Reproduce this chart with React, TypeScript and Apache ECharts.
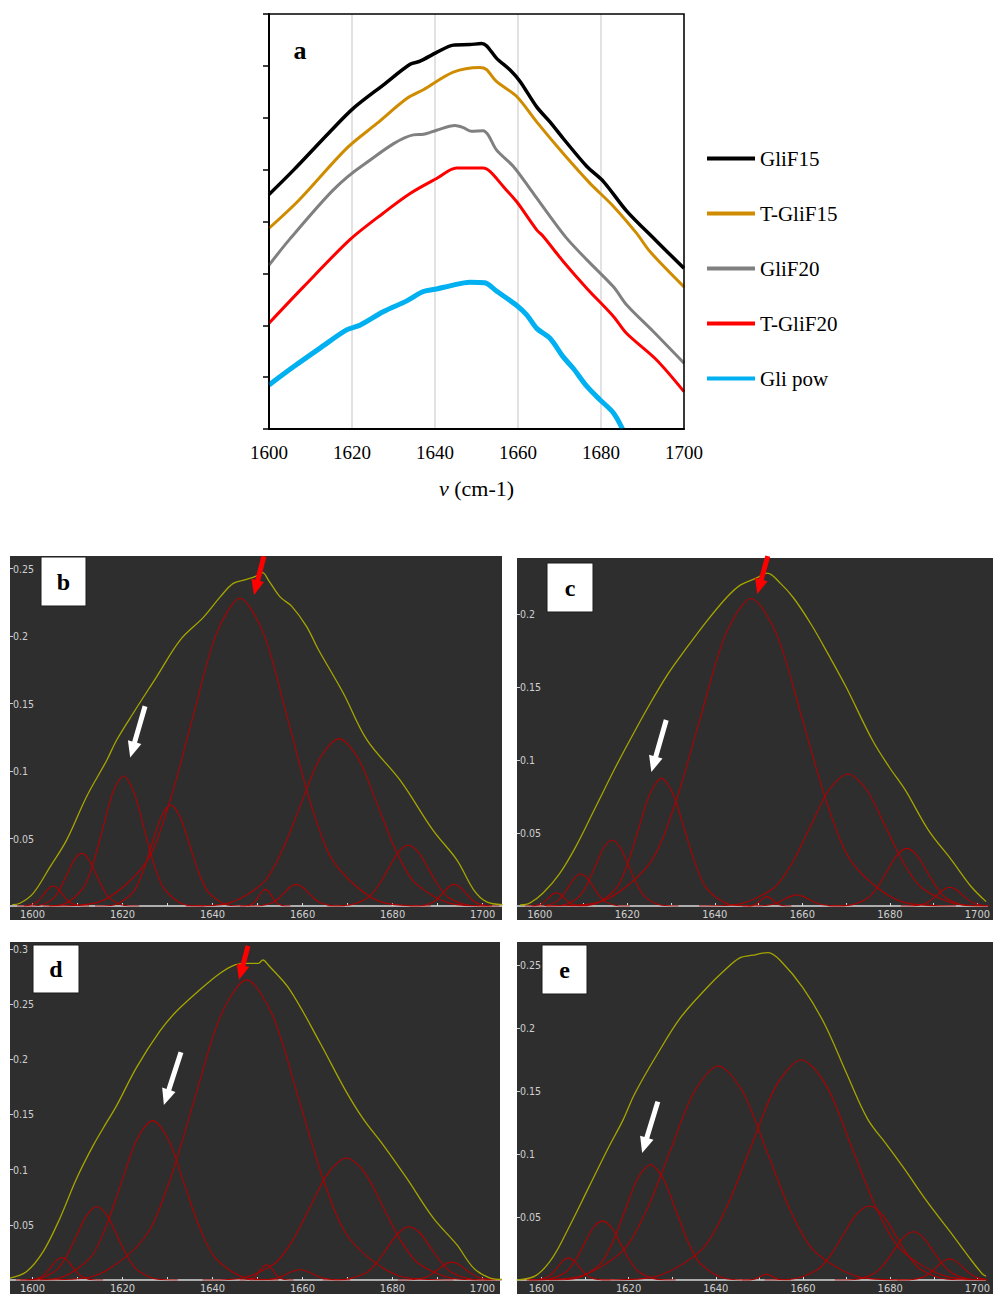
import React, { useEffect, useRef } from 'react';
import * as echarts from 'echarts';

// ---------- Panel a : FTIR amide I spectra (arbitrary offset units) ----------
const SERIES_NAMES = ['GliF15', 'T-GliF15', 'GliF20', 'T-GliF20', 'Gli pow'];
const SERIES_COLORS = ['#000000', '#d08c00', '#808080', '#ff0000', '#00b0f0'];
const SERIES_WIDTHS = [3.5, 3, 3, 3, 5];

const GLIF15 = [[1600, 4.52], [1605.9, 4.99], [1614.7, 5.73], [1620.3, 6.18], [1627.5, 6.63], [1634, 7.03], [1636.4, 7.09], [1640.4, 7.26], [1644.4, 7.4], [1648.4, 7.41], [1651.2, 7.43], [1652.4, 7.39], [1654.8, 7.15], [1658.1, 6.92], [1660.5, 6.7], [1664.5, 6.21], [1667.7, 5.92], [1670.9, 5.6], [1676.6, 5.06], [1680.6, 4.77], [1686.2, 4.2], [1693.4, 3.62], [1700, 3.1]];
const T_GLIF15 = [[1600, 3.87], [1607.2, 4.41], [1618.7, 5.41], [1626, 5.89], [1633.2, 6.37], [1637.2, 6.54], [1644.4, 6.88], [1650.8, 6.97], [1652.4, 6.93], [1654.8, 6.7], [1659.7, 6.41], [1664.5, 5.92], [1670.9, 5.31], [1677.3, 4.74], [1682.9, 4.3], [1688.6, 3.77], [1691.8, 3.42], [1700, 2.74]];
const GLIF20 = [[1600, 3.16], [1605, 3.66], [1615.5, 4.61], [1622.7, 5.09], [1634.8, 5.67], [1637.2, 5.68], [1640.4, 5.76], [1644.8, 5.85], [1646.8, 5.81], [1648.8, 5.74], [1651.6, 5.75], [1652.8, 5.67], [1654.8, 5.38], [1658.9, 5.06], [1663.7, 4.54], [1667.7, 4.1], [1671.7, 3.68], [1676.6, 3.26], [1683, 2.74], [1686.2, 2.39], [1692.6, 1.88], [1700, 1.27]];
const T_GLIF20 = [[1600, 2.04], [1608.3, 2.74], [1619.5, 3.65], [1627.5, 4.16], [1634, 4.54], [1640.4, 4.83], [1645.2, 5.03], [1651.6, 5.03], [1653.3, 4.96], [1656.5, 4.67], [1659.7, 4.38], [1664.5, 3.84], [1666.1, 3.71], [1670.9, 3.23], [1676.6, 2.71], [1683, 2.17], [1686.2, 1.84], [1693.4, 1.33], [1700, 0.72]];
const GLI_POW = [[1600, 0.85], [1605.9, 1.2], [1612.3, 1.56], [1618.7, 1.91], [1621.9, 2.0], [1627.5, 2.26], [1633.2, 2.47], [1637.2, 2.65], [1640.4, 2.7], [1643.6, 2.76], [1648.4, 2.83], [1652, 2.82], [1654.8, 2.66], [1659.7, 2.38], [1662.1, 2.2], [1664.5, 1.94], [1667.7, 1.75], [1670.9, 1.39], [1673.3, 1.17], [1676.6, 0.82], [1679.8, 0.56], [1683, 0.31], [1685.2, 0]];
const A_SERIES = [GLIF15, T_GLIF15, GLIF20, T_GLIF20, GLI_POW];

// ---------- Panels b-e : curve-fitted amide I band ----------
const PANEL_X_LABELS = [1600, 1620, 1640, 1660, 1680, 1700];
const PANEL_X_TICKS = [1600, 1610, 1620, 1630, 1640, 1650, 1660, 1670, 1680, 1690, 1700];
const Y_LABELS_025 = [0.05, 0.1, 0.15, 0.2, 0.25];
const Y_LABELS_02 = [0.05, 0.1, 0.15, 0.2];
const Y_LABELS_03 = [0.05, 0.1, 0.15, 0.2, 0.25, 0.3];

const B_ENVELOPE = [[1595.5, 0.001], [1597.2, 0.002], [1600.2, 0.0096], [1603.9, 0.029], [1607.6, 0.049], [1612, 0.081], [1616.5, 0.108], [1618.7, 0.123], [1622.4, 0.143], [1627.6, 0.17], [1632.8, 0.197], [1638, 0.214], [1641.7, 0.229], [1644.6, 0.239], [1647.6, 0.242], [1649.4, 0.244], [1651.1, 0.247], [1652.4, 0.2415], [1655, 0.229], [1657.6, 0.222], [1660.9, 0.207], [1663.5, 0.19], [1669, 0.158], [1674.3, 0.123], [1681.7, 0.093], [1689, 0.056], [1694.3, 0.034], [1698, 0.012], [1700.9, 0.003], [1704.4, 0.001]];
const B_BANDS = [
  [[1596.6, 0], [1598.6, 0.0002], [1600.6, 0.002], [1601.6, 0.0048], [1602.6, 0.009], [1603.6, 0.0131], [1604.6, 0.0148], [1605.6, 0.0131], [1606.6, 0.009], [1607.6, 0.0048], [1608.6, 0.002], [1610.6, 0.0002], [1612.6, 0]],
  [[1598.1, 0], [1601.3, 0.0004], [1604.5, 0.0053], [1606.1, 0.0127], [1607.7, 0.0237], [1609.3, 0.0344], [1610.9, 0.039], [1612.5, 0.0344], [1614.1, 0.0237], [1615.7, 0.0127], [1617.3, 0.0053], [1620.5, 0.0004], [1623.7, 0]],
  [[1602.2, 0], [1606.7, 0.0011], [1611.2, 0.013], [1613.45, 0.0313], [1615.7, 0.0585], [1617.95, 0.085], [1620.2, 0.0963], [1622.45, 0.085], [1624.7, 0.0585], [1626.95, 0.0313], [1629.2, 0.013], [1633.7, 0.0011], [1638.2, 0]],
  [[1613.9, 0], [1618.1, 0.0008], [1622.3, 0.0101], [1624.4, 0.0243], [1626.5, 0.0454], [1628.6, 0.066], [1630.7, 0.0748], [1632.8, 0.066], [1634.9, 0.0454], [1637, 0.0243], [1639.1, 0.0101], [1643.3, 0.0008], [1647.5, 0]],
  [[1603.7, 0], [1614.3, 0.0025], [1624.9, 0.0308], [1630.2, 0.0741], [1635.5, 0.1384], [1640.8, 0.2012], [1646.1, 0.228], [1651.4, 0.2012], [1656.7, 0.1384], [1662, 0.0741], [1667.3, 0.0308], [1677.9, 0.0025], [1688.5, 0]],
  [[1646.1, 0], [1647.5, 0.0001], [1648.9, 0.0017], [1649.6, 0.004], [1650.3, 0.0075], [1651, 0.0109], [1651.7, 0.0123], [1652.4, 0.0109], [1653.1, 0.0075], [1653.8, 0.004], [1654.5, 0.0017], [1655.9, 0.0001], [1657.3, 0]],
  [[1647.8, 0], [1650.5, 0.0002], [1653.2, 0.0022], [1654.55, 0.0052], [1655.9, 0.0097], [1657.25, 0.0141], [1658.6, 0.016], [1659.95, 0.0141], [1661.3, 0.0097], [1662.65, 0.0052], [1664, 0.0022], [1666.7, 0.0002], [1669.4, 0]],
  [[1634.1, 0], [1642.6, 0.0014], [1651.1, 0.0167], [1655.35, 0.0403], [1659.6, 0.0753], [1663.85, 0.1094], [1668.1, 0.124], [1672.35, 0.1094], [1676.6, 0.0753], [1680.85, 0.0403], [1685.1, 0.0167], [1693.6, 0.0014], [1702.1, 0]],
  [[1665.5, 0], [1670, 0.0005], [1674.5, 0.0061], [1676.75, 0.0146], [1679, 0.0273], [1681.25, 0.0397], [1683.5, 0.045], [1685.75, 0.0397], [1688, 0.0273], [1690.25, 0.0146], [1692.5, 0.0061], [1697, 0.0005], [1701.5, 0]],
  [[1683.7, 0], [1686.2, 0.0002], [1688.7, 0.0022], [1689.95, 0.0052], [1691.2, 0.0097], [1692.45, 0.0141], [1693.7, 0.016], [1694.95, 0.0141], [1696.2, 0.0097], [1697.45, 0.0052], [1698.7, 0.0022], [1701.2, 0.0002], [1703.7, 0]],
];

const C_ENVELOPE = [[1595.5, 0.0007], [1597.7, 0.002], [1600.7, 0.0087], [1604.5, 0.022], [1608.3, 0.041], [1612.8, 0.068], [1617.3, 0.095], [1620.3, 0.112], [1624.8, 0.1365], [1629.3, 0.159], [1633.1, 0.175], [1638.4, 0.196], [1642.9, 0.212], [1645.9, 0.22], [1649.3, 0.2244], [1652, 0.228], [1655, 0.221], [1658, 0.211], [1662, 0.193], [1666, 0.172], [1670, 0.15], [1676, 0.1137], [1679.8, 0.0954], [1683.5, 0.0795], [1688.8, 0.052], [1694.1, 0.0315], [1698.6, 0.0132], [1702, 0.003]];
const C_BANDS = [
  [[1596.6, 0], [1598.4, 0.0001], [1600.2, 0.0012], [1601.1, 0.003], [1602, 0.0055], [1602.9, 0.008], [1603.8, 0.0091], [1604.7, 0.008], [1605.6, 0.0055], [1606.5, 0.003], [1607.4, 0.0012], [1609.2, 0.0001], [1611, 0]],
  [[1598.2, 0], [1601, 0.0002], [1603.8, 0.003], [1605.2, 0.0071], [1606.6, 0.0133], [1608, 0.0193], [1609.4, 0.0219], [1610.8, 0.0193], [1612.2, 0.0133], [1613.6, 0.0071], [1615, 0.003], [1617.8, 0.0002], [1620.6, 0]],
  [[1601.3, 0], [1605.1, 0.0005], [1608.9, 0.0061], [1610.8, 0.0147], [1612.7, 0.0274], [1614.6, 0.0399], [1616.5, 0.0452], [1618.4, 0.0399], [1620.3, 0.0274], [1622.2, 0.0147], [1624.1, 0.0061], [1627.9, 0.0005], [1631.7, 0]],
  [[1607, 0], [1612.2, 0.001], [1617.4, 0.0118], [1620, 0.0284], [1622.6, 0.0531], [1625.2, 0.0771], [1627.8, 0.0874], [1630.4, 0.0771], [1633, 0.0531], [1635.6, 0.0284], [1638.2, 0.0118], [1643.4, 0.001], [1648.6, 0]],
  [[1601.5, 0], [1613.2, 0.0023], [1624.9, 0.0284], [1630.75, 0.0685], [1636.6, 0.1279], [1642.45, 0.1859], [1648.3, 0.2107], [1654.15, 0.1859], [1660, 0.1279], [1665.85, 0.0685], [1671.7, 0.0284], [1683.4, 0.0023], [1695.1, 0]],
  [[1646.3, 0], [1647.7, 0.0001], [1649.1, 0.0009], [1649.8, 0.0021], [1650.5, 0.0039], [1651.2, 0.0056], [1651.9, 0.0064], [1652.6, 0.0056], [1653.3, 0.0039], [1654, 0.0021], [1654.7, 0.0009], [1656.1, 0.0001], [1657.5, 0]],
  [[1647.5, 0], [1650.3, 0.0001], [1653.1, 0.001], [1654.5, 0.0024], [1655.9, 0.0046], [1657.3, 0.0066], [1658.7, 0.0075], [1660.1, 0.0066], [1661.5, 0.0046], [1662.9, 0.0024], [1664.3, 0.001], [1667.1, 0.0001], [1669.9, 0]],
  [[1636.4, 0], [1644.9, 0.001], [1653.4, 0.0122], [1657.65, 0.0294], [1661.9, 0.0549], [1666.15, 0.0798], [1670.4, 0.0904], [1674.65, 0.0798], [1678.9, 0.0549], [1683.15, 0.0294], [1687.4, 0.0122], [1695.9, 0.001], [1704.4, 0]],
  [[1665.9, 0], [1670.4, 0.0004], [1674.9, 0.0053], [1677.15, 0.0128], [1679.4, 0.024], [1681.65, 0.0349], [1683.9, 0.0395], [1686.15, 0.0349], [1688.4, 0.024], [1690.65, 0.0128], [1692.9, 0.0053], [1697.4, 0.0004], [1701.9, 0]],
  [[1682.5, 0], [1685.3, 0.0001], [1688.1, 0.0017], [1689.5, 0.0042], [1690.9, 0.0078], [1692.3, 0.0113], [1693.7, 0.0128], [1695.1, 0.0113], [1696.5, 0.0078], [1697.9, 0.0042], [1699.3, 0.0017], [1702.1, 0.0001], [1704.9, 0]],
];

const D_ENVELOPE = [[1595, 0.0018], [1598.7, 0.0078], [1602.4, 0.026], [1606.1, 0.056], [1609.8, 0.092], [1613.5, 0.122], [1616.5, 0.143], [1618.7, 0.158], [1623.1, 0.1925], [1628.3, 0.2255], [1632, 0.2435], [1637.2, 0.263], [1641.7, 0.278], [1645, 0.2856], [1647.6, 0.287], [1650.2, 0.287], [1651.2, 0.29], [1652.5, 0.285], [1657.2, 0.263], [1663.9, 0.215], [1669.4, 0.173], [1673.5, 0.146], [1678, 0.122], [1683.2, 0.092], [1689.1, 0.056], [1694.3, 0.032], [1698, 0.011], [1701.7, 0.0018], [1704.5, 0.0005]];
const D_BANDS = [
  [[1597.3, 0], [1599.6, 0.0002], [1601.9, 0.0028], [1603.05, 0.0066], [1604.2, 0.0124], [1605.35, 0.018], [1606.5, 0.0204], [1607.65, 0.018], [1608.8, 0.0124], [1609.95, 0.0066], [1611.1, 0.0028], [1613.4, 0.0002], [1615.7, 0]],
  [[1596.3, 0], [1600.8, 0.0007], [1605.3, 0.009], [1607.55, 0.0216], [1609.8, 0.0403], [1612.05, 0.0586], [1614.3, 0.0664], [1616.55, 0.0586], [1618.8, 0.0403], [1621.05, 0.0216], [1623.3, 0.009], [1627.8, 0.0007], [1632.3, 0]],
  [[1598.7, 0], [1605.7, 0.0016], [1612.7, 0.0195], [1616.2, 0.0469], [1619.7, 0.0876], [1623.2, 0.1274], [1626.7, 0.1444], [1630.2, 0.1274], [1633.7, 0.0876], [1637.2, 0.0469], [1640.7, 0.0195], [1647.7, 0.0016], [1654.7, 0]],
  [[1601.6, 0], [1613.1, 0.003], [1624.6, 0.0367], [1630.35, 0.0884], [1636.1, 0.1651], [1641.85, 0.24], [1647.6, 0.272], [1653.35, 0.24], [1659.1, 0.1651], [1664.85, 0.0884], [1670.6, 0.0367], [1682.1, 0.003], [1693.6, 0]],
  [[1646, 0], [1647.5, 0.0002], [1649, 0.0019], [1649.75, 0.0045], [1650.5, 0.0084], [1651.25, 0.0122], [1652, 0.0138], [1652.75, 0.0122], [1653.5, 0.0084], [1654.25, 0.0045], [1655, 0.0019], [1656.5, 0.0002], [1658, 0]],
  [[1648.2, 0], [1651, 0.0001], [1653.8, 0.0013], [1655.2, 0.003], [1656.6, 0.0056], [1658, 0.0082], [1659.4, 0.0093], [1660.8, 0.0082], [1662.2, 0.0056], [1663.6, 0.003], [1665, 0.0013], [1667.8, 0.0001], [1670.6, 0]],
  [[1637.8, 0], [1645.8, 0.0012], [1653.8, 0.0149], [1657.8, 0.0359], [1661.8, 0.0671], [1665.8, 0.0975], [1669.8, 0.1105], [1673.8, 0.0975], [1677.8, 0.0671], [1681.8, 0.0359], [1685.8, 0.0149], [1693.8, 0.0012], [1701.8, 0]],
  [[1664.5, 0], [1669.3, 0.0005], [1674.1, 0.0065], [1676.5, 0.0157], [1678.9, 0.0293], [1681.3, 0.0426], [1683.7, 0.0483], [1686.1, 0.0426], [1688.5, 0.0293], [1690.9, 0.0157], [1693.3, 0.0065], [1698.1, 0.0005], [1702.9, 0]],
  [[1681.2, 0], [1684.2, 0.0002], [1687.2, 0.0022], [1688.7, 0.0053], [1690.2, 0.0098], [1691.7, 0.0143], [1693.2, 0.0162], [1694.7, 0.0143], [1696.2, 0.0098], [1697.7, 0.0053], [1699.2, 0.0022], [1702.2, 0.0002], [1705.2, 0]],
];

const E_ENVELOPE = [[1594.5, 0], [1598.8, 0.0037], [1602.6, 0.018], [1606.3, 0.0417], [1610.8, 0.0732], [1615.3, 0.1047], [1618.7, 0.127], [1621.4, 0.148], [1626.6, 0.1795], [1631.9, 0.2084], [1637.9, 0.232], [1641.7, 0.245], [1645.4, 0.2557], [1648.5, 0.258], [1650.7, 0.2596], [1652, 0.26], [1655, 0.253], [1660, 0.232], [1665, 0.203], [1670, 0.164], [1674.8, 0.128], [1679.3, 0.107], [1683.1, 0.089], [1688.3, 0.063], [1693.6, 0.039], [1698.1, 0.018], [1701.1, 0.005], [1702, 0.003]];
const E_BANDS = [
  [[1596.6, 0], [1599, 0.0002], [1601.4, 0.0024], [1602.6, 0.0057], [1603.8, 0.0107], [1605, 0.0155], [1606.2, 0.0176], [1607.4, 0.0155], [1608.6, 0.0107], [1609.8, 0.0057], [1611, 0.0024], [1613.4, 0.0002], [1615.8, 0]],
  [[1597.2, 0], [1601.4, 0.0005], [1605.6, 0.0063], [1607.7, 0.0153], [1609.8, 0.0285], [1611.9, 0.0415], [1614, 0.047], [1616.1, 0.0415], [1618.2, 0.0285], [1620.3, 0.0153], [1622.4, 0.0063], [1626.6, 0.0005], [1630.8, 0]],
  [[1601.8, 0], [1607.6, 0.001], [1613.4, 0.0124], [1616.3, 0.0298], [1619.2, 0.0556], [1622.1, 0.0808], [1625, 0.0916], [1627.9, 0.0808], [1630.8, 0.0556], [1633.7, 0.0298], [1636.6, 0.0124], [1642.4, 0.001], [1648.2, 0]],
  [[1596.6, 0], [1607.6, 0.0019], [1618.6, 0.023], [1624.1, 0.0553], [1629.6, 0.1032], [1635.1, 0.15], [1640.6, 0.17], [1646.1, 0.15], [1651.6, 0.1032], [1657.1, 0.0553], [1662.6, 0.023], [1673.6, 0.0019], [1684.6, 0]],
  [[1613.6, 0], [1625.1, 0.0019], [1636.6, 0.0236], [1642.35, 0.0569], [1648.1, 0.1062], [1653.85, 0.1544], [1659.6, 0.175], [1665.35, 0.1544], [1671.1, 0.1062], [1676.85, 0.0569], [1682.6, 0.0236], [1694.1, 0.0019], [1705.6, 0]],
  [[1646, 0], [1647.4, 0], [1648.8, 0.0006], [1649.5, 0.0015], [1650.2, 0.0027], [1650.9, 0.004], [1651.6, 0.0045], [1652.3, 0.004], [1653, 0.0027], [1653.7, 0.0015], [1654.4, 0.0006], [1655.8, 0], [1657.2, 0]],
  [[1651.2, 0], [1657.2, 0.0006], [1663.2, 0.0079], [1666.2, 0.0191], [1669.2, 0.0357], [1672.2, 0.0519], [1675.2, 0.0588], [1678.2, 0.0519], [1681.2, 0.0357], [1684.2, 0.0191], [1687.2, 0.0079], [1693.2, 0.0006], [1699.2, 0]],
  [[1667.3, 0], [1671.8, 0.0004], [1676.3, 0.0052], [1678.55, 0.0124], [1680.8, 0.0232], [1683.05, 0.0338], [1685.3, 0.0383], [1687.55, 0.0338], [1689.8, 0.0232], [1692.05, 0.0124], [1694.3, 0.0052], [1698.8, 0.0004], [1703.3, 0]],
  [[1681.6, 0], [1684.6, 0.0002], [1687.6, 0.0023], [1689.1, 0.0055], [1690.6, 0.0102], [1692.1, 0.0148], [1693.6, 0.0168], [1695.1, 0.0148], [1696.6, 0.0102], [1698.1, 0.0055], [1699.6, 0.0023], [1702.6, 0.0002], [1705.6, 0]],
];

// Arrow annotations (data coordinates of each panel): tail -> tip
const ARROWS = [
  { panel: 1, color: '#ffffff', from: [1625, 0.148], to: [1621.7, 0.11] },
  { panel: 1, color: '#ff0000', from: [1651.4, 0.259], to: [1649.2, 0.2304] },
  { panel: 2, color: '#ffffff', from: [1628.9, 0.1274], to: [1625.5, 0.0918] },
  { panel: 2, color: '#ff0000', from: [1652.1, 0.2397], to: [1649.7, 0.2137] },
  { panel: 3, color: '#ffffff', from: [1633, 0.2063], to: [1629.2, 0.1586] },
  { panel: 3, color: '#ff0000', from: [1647.9, 0.3027], to: [1645.9, 0.2721] },
  { panel: 4, color: '#ffffff', from: [1626.7, 0.1417], to: [1623.1, 0.1008] },
];

const PANELS = [
  { label: 'b', bg: [10, 556, 492, 364], grid: [10, 556, 492, 350], xMin: 1595, xMax: 1704.3, yMax: 0.2593, yLabels: Y_LABELS_025, box: [41, 557, 45, 49], envelope: B_ENVELOPE, bands: B_BANDS },
  { label: 'c', bg: [517, 558, 476, 362], grid: [517, 558, 476, 348], xMin: 1594.8, xMax: 1702.25, yMax: 0.2384, yLabels: Y_LABELS_02, box: [547, 563, 46, 49], envelope: C_ENVELOPE, bands: C_BANDS },
  { label: 'd', bg: [10, 942, 490, 352], grid: [10, 942, 490, 340], xMin: 1595, xMax: 1703.9, yMax: 0.3063, yLabels: Y_LABELS_03, box: [33, 945, 46, 48], envelope: D_ENVELOPE, bands: D_BANDS },
  { label: 'e', bg: [517, 942, 476, 352], grid: [517, 942, 476, 341], xMin: 1594.4, xMax: 1701.85, yMax: 0.2685, yLabels: Y_LABELS_025, box: [542, 945, 45, 49], envelope: E_ENVELOPE, bands: E_BANDS },
];

const SERIF = '"Liberation Serif", "Times New Roman", serif';
const NARROW = '"Liberation Sans Narrow", "Arial Narrow", "DejaVu Sans Condensed", sans-serif';

function arrowPolygon(p1: number[], p2: number[], shaft: number, headLen: number, headW: number) {
  const dx = p2[0] - p1[0];
  const dy = p2[1] - p1[1];
  const L = Math.hypot(dx, dy) || 1;
  const ux = dx / L, uy = dy / L;
  const nx = -uy, ny = ux;
  const nk = [p2[0] - ux * headLen, p2[1] - uy * headLen];
  return [
    [p1[0] + nx * shaft / 2, p1[1] + ny * shaft / 2],
    [nk[0] + nx * shaft / 2, nk[1] + ny * shaft / 2],
    [nk[0] + nx * headW / 2, nk[1] + ny * headW / 2],
    [p2[0], p2[1]],
    [nk[0] - nx * headW / 2, nk[1] - ny * headW / 2],
    [nk[0] - nx * shaft / 2, nk[1] - ny * shaft / 2],
    [p1[0] - nx * shaft / 2, p1[1] - ny * shaft / 2],
  ];
}

export default function App() {
  const ref = useRef<HTMLDivElement>(null);

  useEffect(() => {
    const chart = echarts.init(ref.current!, null, { renderer: 'svg' });

    const grids: any[] = [{ left: 269, top: 14, width: 415, height: 415 }];
    const xAxes: any[] = [{
      gridIndex: 0, type: 'value', min: 1600, max: 1700, interval: 20,
      axisLine: { show: true, onZero: false, lineStyle: { color: '#000', width: 2 } },
      axisTick: { show: false },
      axisLabel: { color: '#000', fontSize: 19, fontFamily: SERIF, margin: 14, formatter: (v: number) => String(v) },
      splitLine: { show: true, lineStyle: { color: '#d9d9d9', width: 1.5 } },
      name: '{it|v} (cm-1)', nameLocation: 'middle', nameGap: 48,
      nameTextStyle: { color: '#000', fontSize: 22, fontFamily: SERIF, rich: { it: { fontStyle: 'italic', fontSize: 22, fontFamily: SERIF, color: '#000' } } },
    }];
    const yAxes: any[] = [{
      gridIndex: 0, type: 'value', min: 0, max: 8, interval: 1,
      axisLine: { show: true, onZero: false, lineStyle: { color: '#000', width: 2 } },
      axisTick: { show: true, length: 6, lineStyle: { color: '#000', width: 1.5 } },
      axisLabel: { show: false },
      splitLine: { show: false },
    }];
    const series: any[] = A_SERIES.map((d, i) => ({
      name: SERIES_NAMES[i], type: 'line', xAxisIndex: 0, yAxisIndex: 0, data: d,
      symbol: 'none', showSymbol: false, smooth: 0.3, silent: true,
      lineStyle: { color: SERIES_COLORS[i], width: SERIES_WIDTHS[i] },
      itemStyle: { color: SERIES_COLORS[i] }, z: 3 + (5 - i),
    }));

    const graphics: any[] = [
      { id: 'a-border', type: 'rect', shape: { x: 269, y: 14, width: 415, height: 415 }, style: { fill: 'none', stroke: '#000', lineWidth: 1.5 }, z: 50, silent: true },
      { id: 'a-label', type: 'text', x: 300, y: 50, style: { text: 'a', font: `bold 26px ${SERIF}`, fill: '#000', align: 'center', verticalAlign: 'middle', textAlign: 'center', textVerticalAlign: 'middle' }, z: 60 },
    ];

    PANELS.forEach((p, k) => {
      const gi = k + 1;
      grids.push({ left: p.grid[0], top: p.grid[1], width: p.grid[2], height: p.grid[3] });
      xAxes.push({
        gridIndex: gi, type: 'value', min: p.xMin, max: p.xMax,
        axisLine: { show: true, onZero: false, lineStyle: { color: '#d8d8d8', width: 1.5 } },
        axisTick: { show: true, inside: true, length: 3, customValues: PANEL_X_TICKS, lineStyle: { color: '#d8d8d8' } },
        axisLabel: { customValues: PANEL_X_LABELS, color: '#d0d0d0', fontSize: 11, fontFamily: NARROW, margin: 3, formatter: (v: number) => String(v) },
        splitLine: { show: false },
      });
      yAxes.push({
        gridIndex: gi, type: 'value', min: 0, max: p.yMax,
        axisLine: { show: false },
        axisTick: { show: true, inside: true, length: 3, customValues: p.yLabels, lineStyle: { color: '#d0d0d0' } },
        axisLabel: { inside: true, customValues: p.yLabels, color: '#d0d0d0', fontSize: 10.5, fontFamily: NARROW, margin: 3, formatter: (v: number) => String(+v.toFixed(2)) },
        splitLine: { show: false },
      });
      p.bands.forEach((b) => {
        series.push({
          type: 'line', xAxisIndex: gi, yAxisIndex: gi, data: b, symbol: 'none', showSymbol: false,
          smooth: 0.3, silent: true, z: 3,
          lineStyle: { color: '#b00000', width: 1.1 },
        });
      });
      series.push({
        type: 'line', xAxisIndex: gi, yAxisIndex: gi, data: p.envelope, symbol: 'none', showSymbol: false,
        smooth: 0.35, silent: true, z: 4,
        lineStyle: { color: '#a5a500', width: 1.3 },
      });
      graphics.push({ id: `bg-${p.label}`, type: 'rect', shape: { x: p.bg[0], y: p.bg[1], width: p.bg[2], height: p.bg[3] }, style: { fill: '#2e2e2e' }, z: -10, silent: true });
      graphics.push({ id: `box-${p.label}`, type: 'rect', shape: { x: p.box[0], y: p.box[1], width: p.box[2], height: p.box[3] }, style: { fill: '#ffffff', stroke: '#1a1a1a', lineWidth: 1 }, z: 100, silent: true });
      graphics.push({ id: `lbl-${p.label}`, type: 'text', x: p.box[0] + p.box[2] / 2, y: p.box[1] + p.box[3] / 2, style: { text: p.label, font: `bold 24px ${SERIF}`, fill: '#000', align: 'center', verticalAlign: 'middle', textAlign: 'center', textVerticalAlign: 'middle' }, z: 101, silent: true });
    });

    chart.setOption({
      animation: false,
      backgroundColor: '#ffffff',
      grid: grids,
      xAxis: xAxes,
      yAxis: yAxes,
      legend: {
        data: SERIES_NAMES, orient: 'vertical', left: 702, top: 143, icon: 'rect', itemWidth: 48, itemHeight: 4, itemGap: 34,
        textStyle: { color: '#000', fontSize: 21, fontFamily: SERIF },
        selectedMode: false,
      },
      series,
      graphic: { elements: graphics },
    });

    const arrowEls = ARROWS.map((a, i) => {
      const p1 = chart.convertToPixel({ gridIndex: a.panel } as any, a.from) as number[];
      const p2 = chart.convertToPixel({ gridIndex: a.panel } as any, a.to) as number[];
      const red = a.color !== '#ffffff';
      return {
        id: `arrow-${i}`, type: 'polygon', silent: true, z: 90,
        shape: { points: arrowPolygon(p1, p2, 5, red ? 15 : 16, red ? 13 : 14) },
        style: { fill: a.color },
      };
    });
    chart.setOption({ graphic: { elements: arrowEls } });

    return () => chart.dispose();
  }, []);

  return <div ref={ref} style={{ position: 'absolute', left: 0, top: 0, width: 993, height: 1294 }} />;
}
